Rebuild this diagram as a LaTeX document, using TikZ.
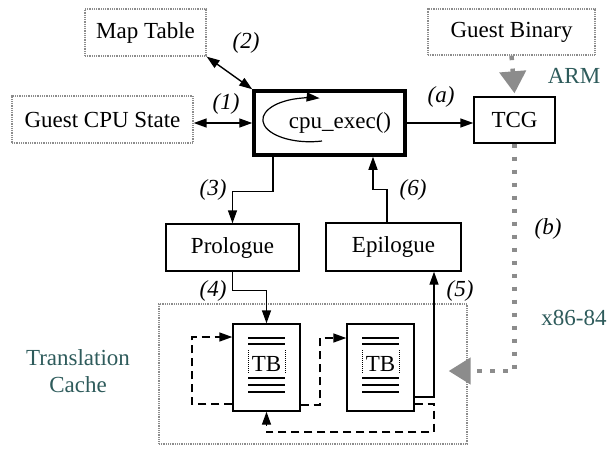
\documentclass[tikz,border=0pt]{standalone}
\usepackage{fontspec}
\setmainfont{Liberation Serif}
\usetikzlibrary{arrows.meta,calc}
\definecolor{tealtxt}{HTML}{2E5B5B}
\definecolor{dotgray}{HTML}{8C8C8C}
\begin{document}
\begin{tikzpicture}[x=1pt,y=-1pt,
  font=\fontsize{23}{27}\selectfont,
  solidbox/.style={draw,line width=1.4pt,inner sep=0pt},
  graybox/.style={draw=dotgray,line width=1.3pt,dash pattern=on 1pt off 0.8pt,inner sep=0pt},
  arr/.style={line width=1.4pt,-{Triangle[length=13pt,width=9pt]}},
  darr/.style={line width=1.4pt,{Triangle[length=13pt,width=9pt]}-{Triangle[length=13pt,width=9pt]}},
  dashline/.style={line width=1.4pt,dash pattern=on 8pt off 5pt,-{Triangle[length=13pt,width=9pt]}},
  graydots/.style={draw=dotgray,line width=4.5pt,line cap=butt,dash pattern=on 4.5pt off 8.5pt,
    -{Triangle[length=22pt,width=26pt,color=dotgray]}},
  lbl/.style={font=\fontsize{23}{27}\selectfont\itshape,inner sep=0pt},
  tlbl/.style={text=tealtxt,inner sep=0pt,align=center}
]
\useasboundingbox (0,0) rectangle (609,448);

% gray dotted boxes
\node[graybox,minimum width=121pt,minimum height=47pt] (maptable) at (145.5,32.5) {Map Table};
\node[graybox,minimum width=181pt,minimum height=47pt] (cpustate) at (102.5,119.5) {Guest CPU State};
\node[graybox,minimum width=167pt,minimum height=46pt] (guestbin) at (511.5,32) {Guest Binary};
\node[graybox,minimum width=308pt,minimum height=140pt] (cache) at (313,374) {};

% solid boxes
\node[draw,line width=3.5pt,inner sep=0pt,minimum width=151pt,minimum height=64pt] (cpuexec) at (329.5,123) {};
\node[inner sep=0pt] (cpuexectxt) at (340,123) {cpu\_exec()};
\node[solidbox,minimum width=81pt,minimum height=46pt] (tcg) at (514.5,120) {TCG};
\node[solidbox,minimum width=133pt,minimum height=47pt] (prologue) at (232.5,247.5) {Prologue};
\node[solidbox,minimum width=135pt,minimum height=48pt] (epilogue) at (393.5,247) {Epilogue};
\node[solidbox,minimum width=67pt,minimum height=87pt] (tb1) at (266.5,367.5) {};
\node[solidbox,minimum width=67pt,minimum height=87pt] (tb2) at (380.5,367.5) {};

% TB inner decoration
\foreach \t in {tb1,tb2}{
  \foreach \dy in {-29.5,-23.5,10.5,17.5,24.5}{
    \draw[line width=1.4pt] ($(\t.center)+(-18.5,\dy)$) -- ($(\t.center)+(18.5,\dy)$);
  }
  \draw[line width=1pt,densely dotted] ($(\t.center)+(-18.5,-17.5)$) -- ($(\t.center)+(-18.5,6.5)$);
  \draw[line width=1pt,densely dotted] ($(\t.center)+(18.5,-17.5)$) -- ($(\t.center)+(18.5,6.5)$);
  \node[inner sep=0pt] (\t txt) at ($(\t.center)+(0,-3.5)$) {TB};
}

% loop arrow inside cpu_exec
\draw[arr,line width=1.2pt] (322,141) arc[start angle=75,end angle=282,x radius=47,y radius=22];

% connectors
\draw[darr] (cpustate.east |- cpuexec.west) -- (cpuexec.west);
\draw[darr] (maptable.south east) -- (cpuexec.north west);
\draw[arr] (cpuexec.east) -- (cpuexec.east -| tcg.west);
\draw[arr] (cpuexec.south -| 273,0) -- ++(0,35) -| (prologue.north);
\draw[arr] (epilogue.north -| 387,0) -- ++(0,-33) -| (cpuexec.south -| 373,0);
\draw[arr] (prologue.south) -- ++(0,19) -| (tb1.north);
\draw[arr] (tb2.east |- 0,397) -| (epilogue.south -| 434,0);

% dashed flows
\draw[dashline] (tb1.west |- 0,404) -- (192,404) -- (192,337) -- (tb1.west |- 0,337);
\draw[dashline] (tb1.east |- 0,405) -- (320,405) -- (320,338) -- (tb2.west |- 0,338);
\draw[dashline] (tb2.east |- 0,404) -- (434,404) -- (434,432) -| (tb1.south);

% gray dotted flows
\draw[graydots] (guestbin.south) -- ([yshift=3pt]tcg.north);
\draw[graydots] (tcg.south) -- (tcg.south |- 0,371) -- ([xshift=-19pt]cache.east |- 0,371);

% labels
\node[lbl] (l1) at (226,104) {(1)};
\node[lbl] (l2) at (246,43) {(2)};
\node[lbl] (la) at (441,97) {(a)};
\node[lbl] (l3) at (213,190) {(3)};
\node[lbl] (l6) at (413,190) {(6)};
\node[lbl] (l4) at (213,291) {(4)};
\node[lbl] (l5) at (460,291) {(5)};
\node[lbl] (lb) at (548,229) {(b)};
\node[tlbl] (arm) at (574,76) {ARM};
\node[tlbl] (x86) at (574,318) {x86-84};
\node[tlbl] (tc) at (78,371) {Translation\\Cache};
\end{tikzpicture}
\end{document}
